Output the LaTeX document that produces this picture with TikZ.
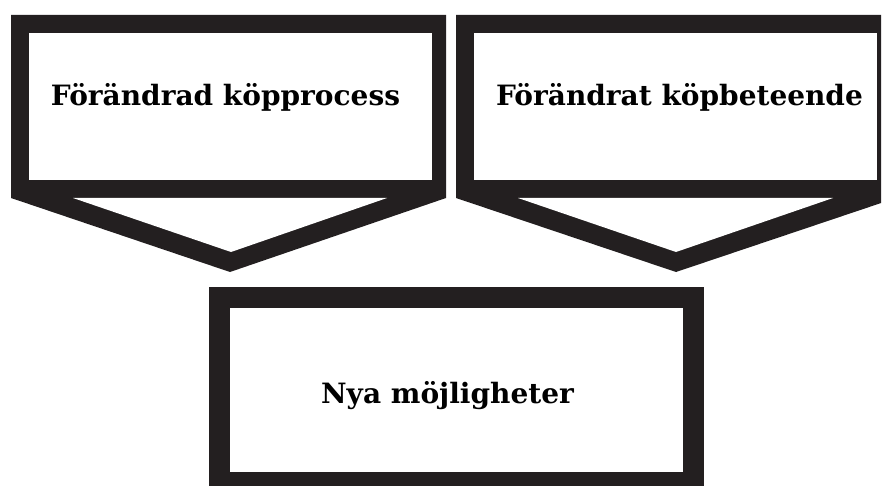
\documentclass[tikz,border=0pt]{standalone}
\usepackage{fontspec}
\setmainfont{DejaVu Serif}
\definecolor{ink}{HTML}{231F20}
\tikzset{
  x=1pt, y=-1pt,
  frame/.style={fill=ink, draw=none},
  hole/.style={fill=white, draw=none},
  label/.style={anchor=base, inner sep=0pt, font=\fontsize{28}{32}\selectfont\bfseries, text=black}
}
\begin{document}
\begin{tikzpicture}
\useasboundingbox (0,0) rectangle (885,486);
\fill[white] (0,0) rectangle (885,486);
\begin{scope}
\clip (0,0) rectangle (881,486);
% left chevron box
\path[frame] (11,15) -- (446,15) -- (446,198) -- (230,272) -- (11,198) -- cycle;
\path[hole] (29,33) rectangle (432,180);
\path[hole] (73,198) -- (387,198) -- (231,252) -- cycle;
% right chevron box
\path[frame] (456,15) -- (896,15) -- (896,198) -- (676,272) -- (456,198) -- cycle;
\path[hole] (474,33) rectangle (877,180);
\path[hole] (518,198) -- (833,198) -- (676,252) -- cycle;
% bottom box
\path[frame] (209,287) rectangle (704,500);
\path[hole] (230,308) rectangle (683,472);
\end{scope}
\node[label] (proc) at (225.5,106) {Förändrad köpprocess};
\node[label] (beh) at (679.5,106) {Förändrat köpbeteende};
\node[label] (opp) at (447.5,403) {Nya möjligheter};
\end{tikzpicture}
\end{document}
